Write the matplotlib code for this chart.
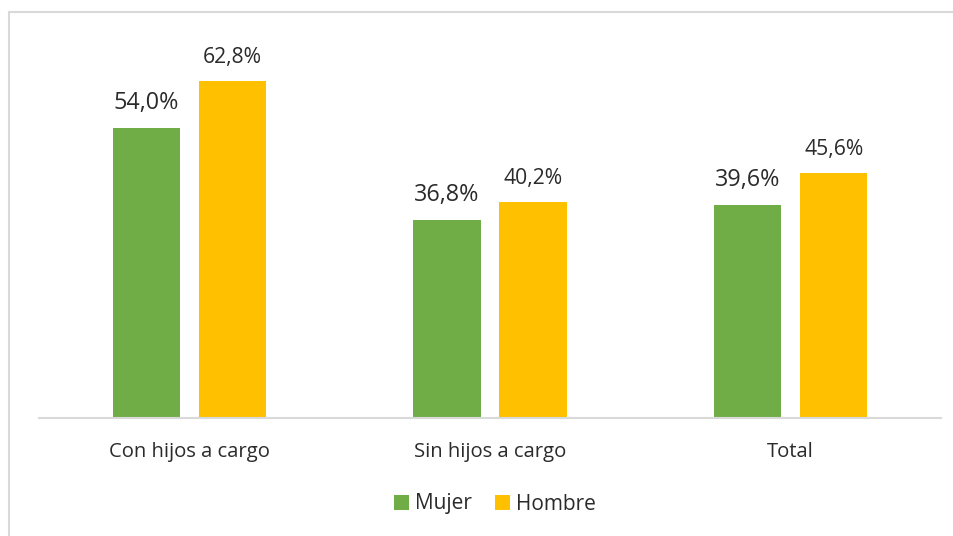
import matplotlib.pyplot as plt
from matplotlib.patches import Rectangle
import numpy as np

categories = ['Con hijos a cargo', 'Sin hijos a cargo', 'Total']
mujer = [54.0, 36.8, 39.6]
hombre = [62.8, 40.2, 45.6]
series_names = ['Mujer', 'Hombre']

GREEN = '#70AD47'
GOLD = '#FFC000'
TEXT = '#2b2b2b'
GRID = '#D9D9D9'

plt.rcParams['font.family'] = ['Open Sans', 'DejaVu Sans']

fig = plt.figure(figsize=(9.54, 5.36), dpi=100)
ax = fig.add_axes([39 / 954, 1 - 418 / 536, 902 / 954, 376 / 536])

x = np.arange(len(categories))
w = 0.223
off = 0.143
b1 = ax.bar(x - off, mujer, w, color=GREEN, label=series_names[0])
b2 = ax.bar(x + off, hombre, w, color=GOLD, label=series_names[1])


def fmt(v):
    return f'{v:.1f}'.replace('.', ',') + '%'


for rect, v in zip(b1, mujer):
    ax.annotate(fmt(v), (rect.get_x() + rect.get_width() / 2, v),
                xytext=(0, 18), textcoords='offset points',
                ha='center', va='center', fontsize=16.8, color=TEXT)
for rect, v in zip(b2, hombre):
    ax.annotate(fmt(v), (rect.get_x() + rect.get_width() / 2, v),
                xytext=(0, 17), textcoords='offset points',
                ha='center', va='center', fontsize=15.2, color=TEXT)

ax.set_xlim(-0.5, 2.5)
ax.set_ylim(0, 70)
ax.set_xticks(x)
ax.set_xticklabels(categories, fontsize=14.6, color=TEXT)
ax.tick_params(axis='x', length=0, pad=17)
ax.set_yticks([])
for s in ['top', 'right', 'left']:
    ax.spines[s].set_visible(False)
ax.spines['bottom'].set_color(GRID)
ax.spines['bottom'].set_linewidth(1.5)

leg = fig.legend(handles=[b1, b2], loc='center', bbox_to_anchor=(495 / 954, 1 - 504 / 536),
                 ncol=2, frameon=False, fontsize=15, handlelength=0.7, handleheight=0.7,
                 handletextpad=0.3, columnspacing=1.1)
for t in leg.get_texts():
    t.set_color(TEXT)

fig.patches.append(Rectangle((9.5 / 954, -0.05), 1.1, 1.05 - 12.5 / 536,
                             transform=fig.transFigure, fill=False,
                             edgecolor=GRID, linewidth=1.5))

fig.savefig('out.png', dpi=100)
